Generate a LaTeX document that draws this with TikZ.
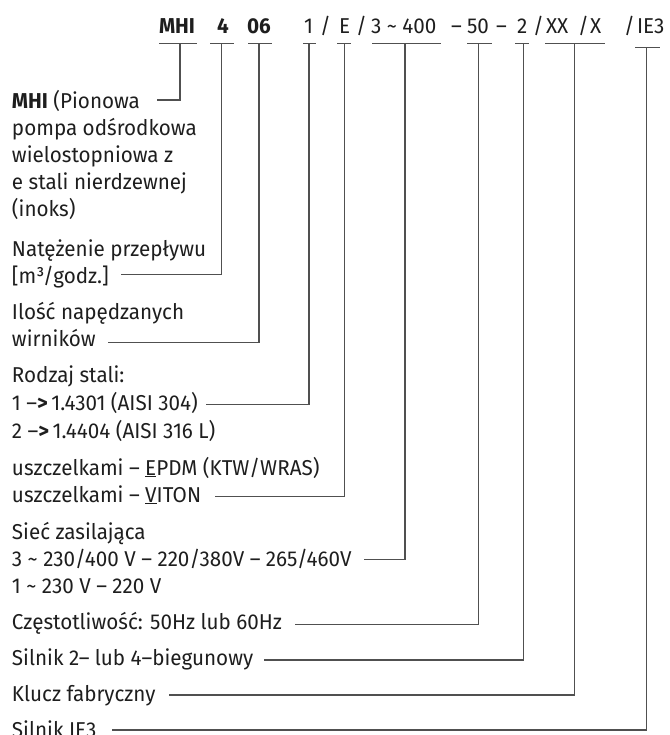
\documentclass[tikz,border=0pt]{standalone}
\usepackage{fontspec}
\setmainfont{Fira Sans}[FakeStretch=0.96]
\definecolor{ink}{HTML}{1E1E1E}
\definecolor{lc}{HTML}{505050}
\begin{document}
\begin{tikzpicture}[x=1pt,y=-1pt,
  txt/.style={anchor=base west, inner sep=0pt, outer sep=0pt, text=ink, font=\fontsize{21.5}{27}\selectfont},
  btxt/.style={txt, font=\fontsize{21.5}{27}\selectfont\bfseries},
  uline/.style={draw=lc, line width=1.2pt},
  conn/.style={draw=lc, line width=1.2pt}]
\useasboundingbox (0,0) rectangle (669,735);
% ---- top code row ----
\node[btxt] (t1) at (159,34) {MHI};
\node[btxt] (t2) at (217,34) {4};
\node[btxt] (t3) at (247,34) {06};
\node[txt] (t4) at (304,34) {1};
\node[txt] (s1) at (320,34) {/};
\node[txt] (t5) at (339,34) {E};
\node[txt] (s2) at (356,34) {/};
\node[txt] (t6) at (371,34) {3 \textasciitilde\ 400};
\node[txt] (d1) at (451,34) {–};
\node[txt] (t7) at (467,34) {50};
\node[txt] (d2) at (496,34) {–};
\node[txt] (t8) at (517,34) {2};
\node[txt] (s3) at (533,34) {/};
\node[txt] (t9) at (546,34) {XX};
\node[txt] (s4) at (578,34) {/};
\node[txt] (t9b) at (590,34) {X};
\node[txt] (s5) at (624,34) {/};
\node[txt] (t10) at (637,34) {IE3};
% underlines and their centre points
\draw[uline] (159,43.3) -- (197,43.3);  \coordinate (u1) at (180,43.3);
\draw[uline] (210,43.3) -- (234,43.3);  \coordinate (u2) at (221.7,43.3);
\draw[uline] (248,43.3) -- (272,43.3);  \coordinate (u3) at (259,43.3);
\draw[uline] (303,43.3) -- (316,43.3);  \coordinate (u4) at (309,43.3);
\draw[uline] (337,43.3) -- (351,43.3);  \coordinate (u5) at (344.7,43.3);
\draw[uline] (372,43.3) -- (441,43.3);  \coordinate (u6) at (405,43.3);
\draw[uline] (467,43.3) -- (492,43.3);  \coordinate (u7) at (478.7,43.3);
\draw[uline] (515,43.3) -- (529,43.3);  \coordinate (u8) at (523.3,43.3);
\draw[uline] (545,43.3) -- (605,43.3);  \coordinate (u9) at (574.7,43.3);
\draw[uline] (635,47.7) -- (660,47.7);  \coordinate (u10) at (646.7,47.7);
% ---- labels ----
\node[txt] (l1)  at (12,109) {\textbf{MHI} (Pionowa};
\node[txt] (l1b) at (12,136) {pompa odśrodkowa};
\node[txt] (l1c) at (12,163) {wielostopniowa z};
\node[txt] (l1d) at (12,190) {e stali nierdzewnej};
\node[txt] (l1e) at (12,217) {(inoks)};
\node[txt] (l2)  at (12,256) {Natężenie przepływu};
\node[txt] (l2b) at (12,283) {[m³/godz.]};
\node[txt] (l3)  at (12,319) {Ilość napędzanych};
\node[txt] (l3b) at (12,346) {wirników};
\node[txt] (l4)  at (12,382) {Rodzaj stali:};
\node[txt] (l4b) at (12,410) {1 –\textbf{>}\,1.4301 (AISI 304)};
\node[txt] (l4c) at (12,438) {2 –\textbf{>}\,1.4404 (AISI 316 L)};
\node[txt] (l5)  at (12,475) {uszczelkami – \underline{E}PDM (KTW/WRAS)};
\node[txt] (l5b) at (12,502) {uszczelkami – \underline{V}ITON};
\node[txt] (l6)  at (12,539) {Sieć zasilająca};
\node[txt] (l6b) at (12,566) {3 \textasciitilde\ 230/400 V – 220/380V – 265/460V};
\node[txt] (l6c) at (12,593) {1 \textasciitilde\ 230 V – 220 V};
\node[txt] (l7)  at (12,629) {Częstotliwość: 50Hz lub 60Hz};
\node[txt] (l8)  at (12,665) {Silnik 2– lub 4–biegunowy};
\node[txt] (l9)  at (12,701) {Klucz fabryczny};
\node[txt] (l10) at (12,737) {Silnik IE3};
% ---- connectors ----
\draw[conn] (u1)  |- ([xshift=17pt,yshift=9pt]l1.base east);
\draw[conn] (u2)  |- ([xshift=12pt,yshift=8.7pt]l2b.base east);
\draw[conn] (u3)  |- ([xshift=12pt,yshift=3.5pt]l3b.base east);
\draw[conn] (u4)  |- ([xshift=8pt,yshift=5.7pt]l4b.base east);
\draw[conn] (u5)  |- ([xshift=14pt,yshift=5.3pt]l5b.base east);
\draw[conn] (u6)  |- ([xshift=12pt,yshift=6.7pt]l6b.base east);
\draw[conn] (u7)  |- ([xshift=13pt,yshift=4.7pt]l7.base east);
\draw[conn] (u8)  |- ([xshift=11pt,yshift=5pt]l8.base east);
\draw[conn] (u9)  |- ([xshift=13pt,yshift=6pt]l9.base east);
\draw[conn] (u10) |- ([xshift=15pt,yshift=7pt]l10.base east);
\end{tikzpicture}
\end{document}
